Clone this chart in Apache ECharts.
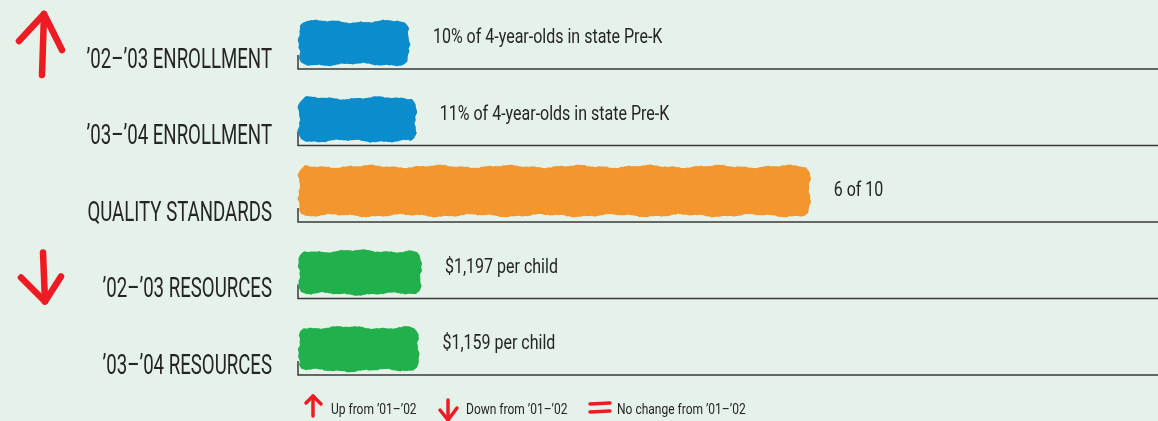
<!DOCTYPE html>
<html>
<head>
<meta charset="utf-8">
<script src="https://cdn.jsdelivr.net/npm/echarts@6/dist/echarts.min.js"></script>
<style>
  html, body { margin: 0; padding: 0; background: #e4f2e9; }
  #chart { width: 1158px; height: 421px; }
</style>
</head>
<body>
<div id="chart"></div>
<script>
const categories = ['’02–’03 ENROLLMENT', '’03–’04 ENROLLMENT', 'QUALITY STANDARDS', '’02–’03 RESOURCES', '’03–’04 RESOURCES'];
// bar length, as % of the full axis width
const barLengths = [12.9, 13.7, 59.5, 14.3, 14.0];
const valueLabels = ['10% of 4-year-olds in state Pre-K', '11% of 4-year-olds in state Pre-K', '6 of 10', '$1,197 per child', '$1,159 per child'];
const barColors = ['#0a8ccd', '#0a8ccd', '#f3962d', '#21b04b', '#21b04b'];
const trends = ['up', '', '', 'down', ''];
const legendItems = ['Up from ’01–’02', 'Down from ’01–’02', 'No change from ’01–’02'];

// no condensed face installed, so the text is squeezed with scaleX
const FONT = 'Roboto, "DejaVu Sans", sans-serif';
const RED = '#ed1c24';
const INK = '#262424';

function wob(v, s) {
  return 1.1 * Math.sin(v * 0.09 + s) + 0.6 * Math.sin(v * 0.27 + s * 1.7) +
    0.45 * Math.sin(v * 2.7 + s) * Math.sin(v * 1.3 + s * 0.4);
}

// rough brush-stroke rectangle
function brushPoints(x0, x1, yc, h, seed) {
  const top = yc - h / 2, bot = yc + h / 2;
  const pts = [];
  for (let x = x0 + 6; x <= x1 - 8; x += 2) {
    pts.push([x, top + 1 + wob(x, seed)]);
  }
  pts.push([x1 - 4, top + 2], [x1 - 1.5, top + 5]);
  for (let y = top + 8; y <= bot - 8; y += 2) {
    pts.push([x1 + 0.8 * wob(y * 3, seed + 1), y]);
  }
  pts.push([x1 - 1.5, bot - 4], [x1 - 5, bot - 1]);
  for (let x = x1 - 8; x >= x0 + 6; x -= 2) {
    pts.push([x, bot - 1 + wob(x, seed + 3)]);
  }
  pts.push([x0 + 2, bot - 3], [x0, bot - 7]);
  for (let y = bot - 10; y >= top + 8; y -= 2) {
    pts.push([x0 + 0.8 * wob(y * 3, seed + 5), y]);
  }
  pts.push([x0 + 1, top + 5], [x0 + 4, top + 2]);
  return pts;
}

function arrow(cx, tailY, tipY, armL, armR, style) {
  return {
    type: 'group',
    children: [
      { type: 'polyline', shape: { points: [[cx + 1, tipY], [cx - 1, tailY]] }, style },
      { type: 'polyline', shape: { points: [armL, [cx + 1, tipY], armR] }, style }
    ]
  };
}

function squeezed(text, x, y, size, sx, align) {
  return {
    type: 'text', x, y, scaleX: sx,
    style: { text, align, verticalAlign: 'middle', font: size + 'px ' + FONT, fill: INK }
  };
}

function renderRow(params, api) {
  const idx = api.value(1);
  const start = api.coord([0, idx]);
  const end = api.coord([api.value(0), idx]);
  const band = api.size([0, 1])[1];
  const yc = start[1];
  const baseY = yc + band * 0.353;
  const rightX = params.coordSys.x + params.coordSys.width;
  const h = idx === 2 ? band * 0.67 : band * 0.59;
  const barY = yc + (idx === 2 ? -4 : 1);
  const children = [
    {
      type: 'polyline',
      shape: { points: [[start[0], baseY - 14], [start[0], baseY], [rightX, baseY]] },
      style: { stroke: '#3a3a3a', lineWidth: 1.5, fill: null }
    },
    {
      type: 'polygon',
      shape: { points: brushPoints(start[0] + 1, end[0], barY, h, idx + 1) },
      style: { fill: barColors[idx] }
    },
    squeezed(categories[idx], start[0] - 26, baseY - 8, 27, 0.69, 'right'),
    squeezed(valueLabels[idx], end[0] + 24, yc - 4, 20, 0.8, 'left')
  ];
  const arrowStyle = { stroke: RED, lineWidth: 6.5, lineCap: 'round', lineJoin: 'round', fill: null };
  if (trends[idx] === 'up') {
    children.push(arrow(43, yc + 33, yc - 28, [19, yc - 1], [62, yc + 8], arrowStyle));
  } else if (trends[idx] === 'down') {
    children.push(arrow(44, yc - 19, yc + 30, [21, yc + 6], [61, yc + 5], arrowStyle));
  }
  return { type: 'group', children };
}

// legend at the bottom
const smallArrow = { stroke: RED, lineWidth: 3.5, lineCap: 'round', lineJoin: 'round', fill: null };
function legendText(text, x) {
  return { type: 'text', x, y: 410, scaleX: 0.8, style: { text, verticalAlign: 'middle', font: '15px ' + FONT, fill: INK } };
}
const legendGraphics = [
  { type: 'polyline', shape: { points: [[313, 396], [313, 416]] }, style: smallArrow },
  { type: 'polyline', shape: { points: [[306, 403], [313, 396], [321, 404]] }, style: smallArrow },
  legendText(legendItems[0], 331),
  { type: 'polyline', shape: { points: [[448, 400], [448, 420]] }, style: smallArrow },
  { type: 'polyline', shape: { points: [[440, 410], [448, 420], [457, 408]] }, style: smallArrow },
  legendText(legendItems[1], 466),
  { type: 'polyline', shape: { points: [[590, 404], [610, 403]] }, style: smallArrow },
  { type: 'polyline', shape: { points: [[590, 412], [610, 411]] }, style: smallArrow },
  legendText(legendItems[2], 617)
];

const chart = echarts.init(document.getElementById('chart'), null, { renderer: 'canvas' });
chart.setOption({
  backgroundColor: '#e4f2e9',
  animation: false,
  grid: { left: 298, right: 0, top: 3.75, bottom: 34.75 },
  xAxis: { type: 'value', min: 0, max: 100, show: false },
  yAxis: {
    type: 'category',
    data: categories,
    inverse: true,
    axisLine: { show: false },
    axisTick: { show: false },
    splitLine: { show: false },
    axisLabel: { show: false }
  },
  graphic: legendGraphics,
  series: [{
    type: 'custom',
    renderItem: renderRow,
    encode: { x: 0, y: 1 },
    data: barLengths.map((v, i) => [v, i])
  }]
});
</script>
</body>
</html>
